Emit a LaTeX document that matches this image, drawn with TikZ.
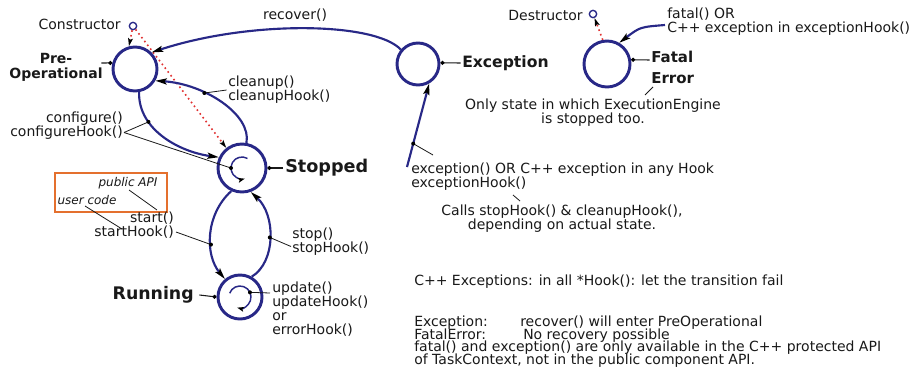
\documentclass[tikz,border=0pt]{standalone}
\usepackage{fontspec}
\setmainfont{DejaVu Sans}
\usetikzlibrary{arrows.meta}
\definecolor{navy}{RGB}{40,40,135}
\definecolor{txtc}{RGB}{25,25,25}
\definecolor{boxo}{RGB}{228,112,46}
\definecolor{dotred}{RGB}{225,50,50}
\begin{document}
\begin{tikzpicture}[x=0.75pt,y=0.75pt,
  st/.style={circle,draw=navy,line width=2.2pt,inner sep=0pt},
  trans/.style={draw=navy,line width=1.6pt,-{Stealth[color=black,length=8.5pt,width=4.5pt,inset=1.5pt]}},
  innr/.style={draw=navy,line width=1.1pt,-{Stealth[color=black,length=5pt,width=3.5pt,inset=1pt]}},
  reddot/.style={draw=dotred,line width=1.2pt,dash pattern=on 1.2pt off 2.4pt,-{Stealth[color=black,length=6pt,width=3.5pt,inset=1pt]}},
  initc/.style={circle,draw=navy,line width=1pt,inner sep=0pt,minimum size=5.5pt},
  txt/.style={font=\fontsize{10.5}{10.5}\selectfont,text=txtc,inner sep=0pt,align=left},
  ital/.style={font=\fontsize{9}{10}\selectfont\itshape,text=txtc,inner sep=0pt},
  lead/.style={draw=txtc,line width=0.6pt},
  tickl/.style={draw=txtc,line width=0.8pt,-{Circle[length=3pt,color=black]}},
  dotm/.style={fill=black}
]
\useasboundingbox (0,0) rectangle (918,-371);
\fill[white] (0,0) rectangle (918,-371);

% states
\node[st,minimum size=33pt] (P) at (135,-69) {};
\node[st,minimum size=31.5pt] (E) at (418,-64) {};
\node[st,minimum size=34.5pt] (F) at (607,-64) {};
\node[st,minimum size=36pt] (S) at (242,-168) {};
\node[st,minimum size=33pt] (R) at (240,-297) {};
\node[initc] (oC) at (133,-26) {};
\node[initc] (oD) at (593,-14) {};

% labels
\node[txt,anchor=east] (ctor) at (121,-24) {Constructor};
\node[font=\fontsize{10.5}{11.5}\selectfont\bfseries,text=txtc,inner sep=0pt,align=center] (Plbl) at (56,-67.5) {Pre-\\Operational};
\node[txt] (rec) at (295,-15) {recover()};
\node[font=\fontsize{11.7}{13}\selectfont\bfseries,text=txtc,inner sep=0pt,anchor=west] (Elbl) at (462,-63) {Exception};
\node[txt,anchor=east] (dtor) at (583,-15) {Destructor};
\node[txt,anchor=west] (fat) at (667,-21.5) {fatal() OR\\C++ exception in exceptionHook()};
\node[font=\fontsize{11.25}{15.75}\selectfont\bfseries,text=txtc,inner sep=0pt,anchor=west,align=left] (Flbl) at (651,-67.5) {Fatal\\Error};
\node[txt,align=center] (only) at (593,-113) {Only state in which ExecutionEngine\\is stopped too.};
\node[txt,anchor=west] (cln) at (228,-90) {cleanup()\\cleanupHook()};
\node[txt,anchor=east,align=right] (cfg) at (123,-125.5) {configure()\\configureHook()};
\node[font=\fontsize{13.2}{15}\selectfont\bfseries,text=txtc,inner sep=0pt,anchor=west] (Slbl) at (285,-168) {Stopped};
\node[txt,anchor=west] (exc) at (411,-176.5) {exception() OR C++ exception in any Hook\\exceptionHook()};
\node[txt,align=center] (calls) at (562,-218.5) {Calls stopHook() \& cleanupHook(),\\depending on actual state.};
\node[draw=boxo,line width=1.6pt,inner sep=0pt,minimum width=84pt,minimum height=29pt] (apibox) at (111,-192.5) {};
\node[ital] (pub) at (128,-183) {public API};
\node[ital] (usr) at (87,-200) {user code};
\node[txt,anchor=east,align=right] (strt) at (174,-225) {start()\\startHook()};
\node[txt,anchor=west] (stp) at (292,-241.5) {stop()\\stopHook()};
\node[font=\fontsize{13}{15}\selectfont\bfseries,text=txtc,inner sep=0pt,anchor=east] (Rlbl) at (194,-295) {Running};
\node[txt,anchor=west] (upd) at (272,-309) {update()\\updateHook()\\or\\errorHook()};

\node[txt,anchor=base west] (n1) at (414,-285) {C++ Exceptions: in all *Hook(): let the transition fail};
\node[txt,anchor=base west] (n2a) at (414,-326.5) {Exception:};
\node[txt,anchor=base west] (n2b) at (520,-326.5) {recover() will enter PreOperational};
\node[txt,anchor=base west] (n3a) at (414,-339) {FatalError:};
\node[txt,anchor=base west] (n3b) at (523,-339) {No recovery possible};
\node[txt,anchor=base west] (n4) at (414,-351.5) {fatal() and exception() are only available in the C++ protected API};
\node[txt,anchor=base west] (n5) at (414,-364) {of TaskContext, not in the public component API.};

% transitions
\draw[reddot] (oC) -- (P.105);
\draw[reddot] (oC) -- (S.128);
\draw[trans] (E.140) .. controls (375,-22) and (250,-20) .. (P.45);
\draw[trans] (S.80) .. controls (252,-115) and (205,-84) .. (P.-30) coordinate[pos=0.65] (clnd);
\draw[trans] (P.-80) .. controls (138,-130) and (180,-152) .. (S.155) coordinate[pos=0.3] (cfgd);
\draw[trans] (S.-115) .. controls (205,-215) and (205,-255) .. (R.130) coordinate[pos=0.6] (strd);
\draw[trans] (R.60) .. controls (276,-262) and (276,-215) .. (S.-70) coordinate[pos=0.5] (stpd);
\coordinate (exs) at (407,-167);
\draw[trans] (exs) -- (E.-60) coordinate[pos=0.28] (excd);
\coordinate (fats) at (665,-25);
\draw[trans] (fats) .. controls (640,-27) .. (F.60);
\draw[reddot] (F.100) -- (oD);

% inner self transitions
\draw[innr] (S) ++(60:11) arc[start angle=60,end angle=285,radius=11];
\draw[innr] (R) ++(160:11) arc[start angle=160,end angle=-105,radius=11];
\path (S) ++(180:11) coordinate (Sin);
\path (R) ++(25:11) coordinate (Rin);

% label ticks
\draw[tickl] ([xshift=-1pt]Plbl.east |- 0,-63) -- (P.165);
\draw[tickl] ([xshift=-1pt]Elbl.west) -- (E.3);
\draw[tickl] ([xshift=-1pt]Flbl.west |- 0,-60) -- (F.10);
\draw[tickl] ([xshift=-1.5pt]Slbl.west) -- (S.0);
\draw[tickl] ([xshift=4pt]Rlbl.east) -- (R.180);

% leaders
\draw[lead] ([shift={(1,-7)}]cfg.east) -- (cfgd);
\draw[lead] ([shift={(1,-7)}]cfg.east) -- (Sin);
\draw[lead] (clnd) -- ([xshift=-1pt]cln.west);
\draw[lead] ([shift={(2,-7)}]strt.east) -- (strd);
\draw[lead] (stpd) -- ([shift={(-1,-5)}]stp.west);
\coordinate (updl) at (270,-293);
\draw[lead] (Rin) -- (updl);
\coordinate (excl) at (433,-155);
\draw[lead] (excd) -- (excl);
\coordinate (errA) at (653,-87);
\coordinate (errB) at (645,-95);
\draw[lead] (errA) -- (errB);
\coordinate (callA) at (513,-195);
\coordinate (callB) at (520,-201);
\draw[lead] (callA) -- (callB);
\coordinate (pubA) at (129,-190);
\coordinate (pubB) at (157,-210);
\draw[lead] (pubA) -- (pubB);
\coordinate (usrA) at (85,-206);
\coordinate (usrB) at (122,-229);
\draw[lead] (usrA) -- (usrB);

% dots
\foreach \d in {cfgd,Sin,clnd,strd,stpd,Rin,excd}
  \fill[dotm] (\d) circle (1.5pt);
\end{tikzpicture}
\end{document}
